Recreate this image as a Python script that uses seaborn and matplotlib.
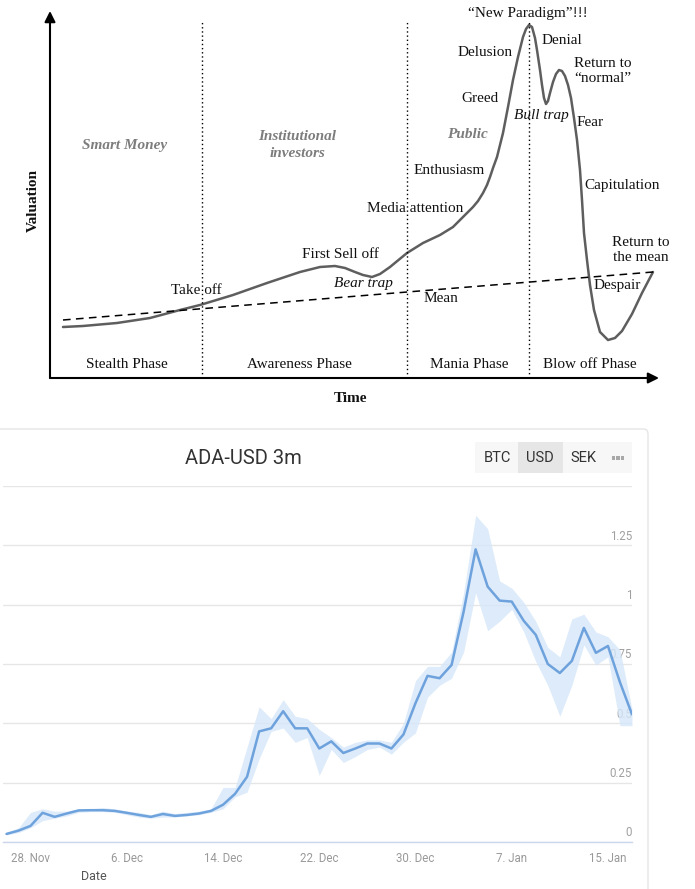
import numpy as np
import pandas as pd
import matplotlib
matplotlib.use("Agg")
import matplotlib.pyplot as plt
import matplotlib.transforms as mtransforms
from matplotlib.patches import Rectangle, FancyBboxPatch
from matplotlib.ticker import FuncFormatter
import seaborn as sns

# ---------------- data: market cycle diagram ----------------
cycle_time = [13, 33, 67, 100, 130, 150, 183, 217, 250, 270, 285, 295, 305, 313, 322, 330, 340,
              357, 373, 390, 403, 417, 423, 428, 433, 437, 440, 443, 447, 453, 458, 463, 468, 473,
              476, 479, 482, 485, 487, 490, 492, 494, 496, 498, 500, 503, 506, 509, 512, 515, 518,
              521, 524, 527, 530, 532, 534, 537, 540, 544, 550, 558, 565, 572, 582, 592, 603]
cycle_value = [51, 52, 55, 60, 68, 73, 83, 95, 106, 111, 112, 110, 106, 103, 101, 104, 111,
               125, 135, 143, 151, 165, 171, 177, 185, 193, 201, 210, 221, 245, 271, 298, 321, 341,
               349, 353, 351, 340, 328, 308, 293, 280, 274, 277, 285, 296, 304, 308, 307, 302, 293,
               280, 260, 238, 208, 178, 145, 118, 93, 68, 46, 38, 40, 47, 64, 85, 106]
mean_time = [13, 603]
mean_value = [58, 106]
phase_bounds = [152, 357, 479]
phase_names = ["Stealth Phase", "Awareness Phase", "Mania Phase", "Blow off Phase"]
investor_groups = ["Smart Money", "Institutional\ninvestors", "Public"]

# ---------------- data: ADA-USD 3m ----------------
dates = pd.date_range("2017-11-26", "2018-01-17", freq="D")
price = [0.034, 0.048, 0.068, 0.123, 0.106, 0.120, 0.133, 0.134, 0.134, 0.131, 0.123,
         0.114, 0.106, 0.118, 0.110, 0.114, 0.120, 0.131, 0.157, 0.203, 0.275, 0.466,
         0.479, 0.551, 0.479, 0.479, 0.394, 0.424, 0.375, 0.394, 0.415, 0.415, 0.394,
         0.453, 0.585, 0.700, 0.690, 0.746, 0.970, 1.233, 1.076, 1.017, 1.013, 0.932,
         0.873, 0.750, 0.712, 0.763, 0.902, 0.797, 0.826, 0.673, 0.538]
price_high = [0.040, 0.060, 0.125, 0.140, 0.130, 0.130, 0.140, 0.140, 0.145, 0.140, 0.130,
              0.125, 0.115, 0.130, 0.120, 0.125, 0.130, 0.140, 0.230, 0.230, 0.400, 0.570,
              0.520, 0.600, 0.530, 0.520, 0.475, 0.440, 0.400, 0.420, 0.430, 0.430, 0.420,
              0.500, 0.680, 0.740, 0.740, 0.800, 1.050, 1.377, 1.320, 1.100, 1.070, 1.010,
              0.930, 0.820, 0.780, 0.940, 0.960, 0.885, 0.865, 0.810, 0.560]
price_low = [0.030, 0.040, 0.060, 0.090, 0.100, 0.110, 0.125, 0.128, 0.128, 0.125, 0.115,
             0.105, 0.100, 0.105, 0.105, 0.110, 0.115, 0.125, 0.140, 0.190, 0.210, 0.350,
             0.466, 0.480, 0.420, 0.440, 0.280, 0.390, 0.335, 0.360, 0.390, 0.400, 0.370,
             0.420, 0.460, 0.610, 0.660, 0.690, 0.800, 1.050, 0.890, 0.930, 0.980, 0.885,
             0.760, 0.660, 0.530, 0.660, 0.830, 0.745, 0.780, 0.490, 0.490]
y_ticks = [0, 0.25, 0.5, 0.75, 1, 1.25, 1.5]
y_tick_labels = ["0", "0.25", "0.5", "0.75", "1", "1.25", ""]
date_ticks = pd.to_datetime(["2017-11-28", "2017-12-06", "2017-12-14", "2017-12-22",
                             "2017-12-30", "2018-01-07", "2018-01-15"])
currencies = ["BTC", "USD", "SEK"]
selected_currency = "USD"

# ---------------- figure ----------------
sns.set_style("white")
plt.rcParams["font.family"] = ["DejaVu Sans"]
W, H = 695, 889
fig = plt.figure(figsize=(W / 100, H / 100), dpi=100)
fig.patch.set_facecolor("white")


def fx(x):
    return x / W


def fy(y):
    return 1 - y / H


SERIF = "Liberation Serif"

# ---------- top panel ----------
ax1 = fig.add_axes([fx(50), fy(378), fx(655) - fx(50), fy(15) - fy(378)])
ax1.set_xlim(0, 605)
ax1.set_ylim(0, 363)
ax1.axis("off")

sns.lineplot(x=cycle_time, y=cycle_value, ax=ax1, color="#5e5e5e", lw=1.8,
             sort=False, estimator=None)
ax1.lines[-1].set_solid_joinstyle("round")
ax1.plot(mean_time, mean_value, color="black", lw=1.1, ls=(0, (5, 3.5)))
for b in phase_bounds:
    ax1.plot([b, b], [0, 356], color="black", lw=1.0, ls=(0, (1, 2)))

ax1.annotate("", xy=(0, 367), xytext=(0, 0), xycoords="data",
             arrowprops=dict(arrowstyle="-|>", color="black", lw=1.5,
                             mutation_scale=16, shrinkA=0, shrinkB=0),
             annotation_clip=False)
ax1.annotate("", xy=(609, 0), xytext=(0, 0), xycoords="data",
             arrowprops=dict(arrowstyle="-|>", color="black", lw=1.5,
                             mutation_scale=16, shrinkA=0, shrinkB=0),
             annotation_clip=False)

fs = 11
def ttext(x, y, s, **kw):
    base = dict(ha="center", va="center", fontsize=fs, family=SERIF, color="#111111")
    base.update(kw)
    fig.text(fx(x), fy(y), s, **base)

ttext(33, 200, "Valuation", rotation=90, fontweight="bold")
ttext(351, 398, "Time", fontweight="bold")

gray = "#7d7d7d"
for name, (x, y) in zip(investor_groups, [(125, 146), (297, 145), (467, 135)]):
    ttext(x, y, name, color=gray, fontweight="bold", style="italic", linespacing=1.35)

for name, x in zip(phase_names, [127, 299, 469, 590]):
    ttext(x, 365, name)

labels = [("Take off", 196, 291, "normal"),
          ("First Sell off", 340, 254, "normal"),
          ("Bear trap", 363, 283, "italic"),
          ("Mean", 441, 299, "normal"),
          ("Media attention", 415, 209, "normal"),
          ("Enthusiasm", 449, 171, "normal"),
          ("Greed", 480, 98, "normal"),
          ("Delusion", 485, 53, "normal"),
          ("\u201cNew Paradigm\u201d!!!", 528, 14, "normal"),
          ("Denial", 562, 41, "normal"),
          ("Return to\n\u201cnormal\u201d", 603, 71, "normal"),
          ("Bull trap", 541, 115, "italic"),
          ("Fear", 590, 122, "normal"),
          ("Capitulation", 622, 185, "normal"),
          ("Return to\nthe mean", 641, 250, "normal"),
          ("Despair", 617, 286, "normal")]
for s, x, y, st in labels:
    ttext(x, y, s, style=st, linespacing=1.15)

# ---------- bottom panel (card) ----------
card = FancyBboxPatch((fx(-20), fy(900)), fx(648) - fx(-20), fy(429) - fy(900),
                      boxstyle="round,pad=0,rounding_size=0.006",
                      transform=fig.transFigure, facecolor="none",
                      edgecolor="#e6e6e6", lw=1.0, zorder=-1)
fig.patches.append(card)

fig.text(fx(243), fy(458), "ADA-USD 3m", ha="center", va="center",
         fontsize=14.5, family="Roboto", color="#333333")

# currency buttons
fig.patches.append(Rectangle((fx(475), fy(473)), fx(632) - fx(475), fy(442) - fy(473),
                             transform=fig.transFigure, facecolor="#f7f7f7",
                             edgecolor="none", zorder=1))
btn_x = [497, 540, 583]
for c, x in zip(currencies, btn_x):
    if c == selected_currency:
        fig.patches.append(Rectangle((fx(x - 22), fy(473)), fx(45), fy(442) - fy(473),
                                     transform=fig.transFigure, facecolor="#e6e6e6",
                                     edgecolor="none", zorder=1))
    fig.text(fx(x), fy(458), c, ha="center", va="center", fontsize=10.5,
             family="Roboto", color="#333333", zorder=2)
for dx in (-4.5, 0, 4.5):
    fig.patches.append(Rectangle((fx(618 + dx - 1.6), fy(459.5)), fx(3.2), fy(456.3) - fy(459.5),
                                 transform=fig.transFigure, facecolor="#a8a8a8",
                                 edgecolor="none", zorder=2))

ax2 = fig.add_axes([fx(3), fy(842), fx(632) - fx(3), fy(486) - fy(842)])
ax2.set_zorder(3)
ax2.set_facecolor("none")
ax2.fill_between(dates, price_low, price_high, color="#d6e7f9", alpha=0.8, lw=0, zorder=1)
sns.lineplot(x=dates, y=price, ax=ax2, color="#6ea2dc", lw=1.8, zorder=2)
ax2.set_ylim(0, 1.5)
ax2.set_xlim(dates[0] - pd.Timedelta(hours=7), dates[-1])
ax2.set_yticks(y_ticks)
ax2.yaxis.grid(True, color="#e6e6e6", lw=1.0)
ax2.xaxis.grid(False)
ax2.set_axisbelow(True)
for side in ("left", "right", "top"):
    ax2.spines[side].set_visible(False)
ax2.spines["bottom"].set_color("#ccd6eb")
ax2.spines["bottom"].set_linewidth(1.0)
ax2.tick_params(axis="y", length=0, labelleft=False)
ax2.set_xticks(date_ticks)
ax2.xaxis.set_major_formatter(FuncFormatter(
    lambda v, p: "{}. {}".format(matplotlib.dates.num2date(v).day,
                                 matplotlib.dates.num2date(v).strftime("%b"))))
ax2.tick_params(axis="x", direction="in", length=10, width=1, color="#ccd6eb",
                labelcolor="#999999", labelsize=8.3, pad=7.5)
for lab in ax2.get_xticklabels():
    lab.set_family("Roboto")
ax2.set_xlabel("")
ax2.set_ylabel("")

off = mtransforms.offset_copy(ax2.get_yaxis_transform(), fig=fig, x=0, y=2, units="points")
for v, s in zip(y_ticks, y_tick_labels):
    ax2.text(1.0, v, s, transform=off, ha="right", va="bottom", fontsize=8.3,
             family="Roboto", color="#a0a0a0", zorder=0.5)

fig.text(fx(94), fy(876), "Date", ha="center", va="center", fontsize=9,
         family="Roboto", color="#555555")

fig.savefig("out.png", dpi=100, facecolor="white")
